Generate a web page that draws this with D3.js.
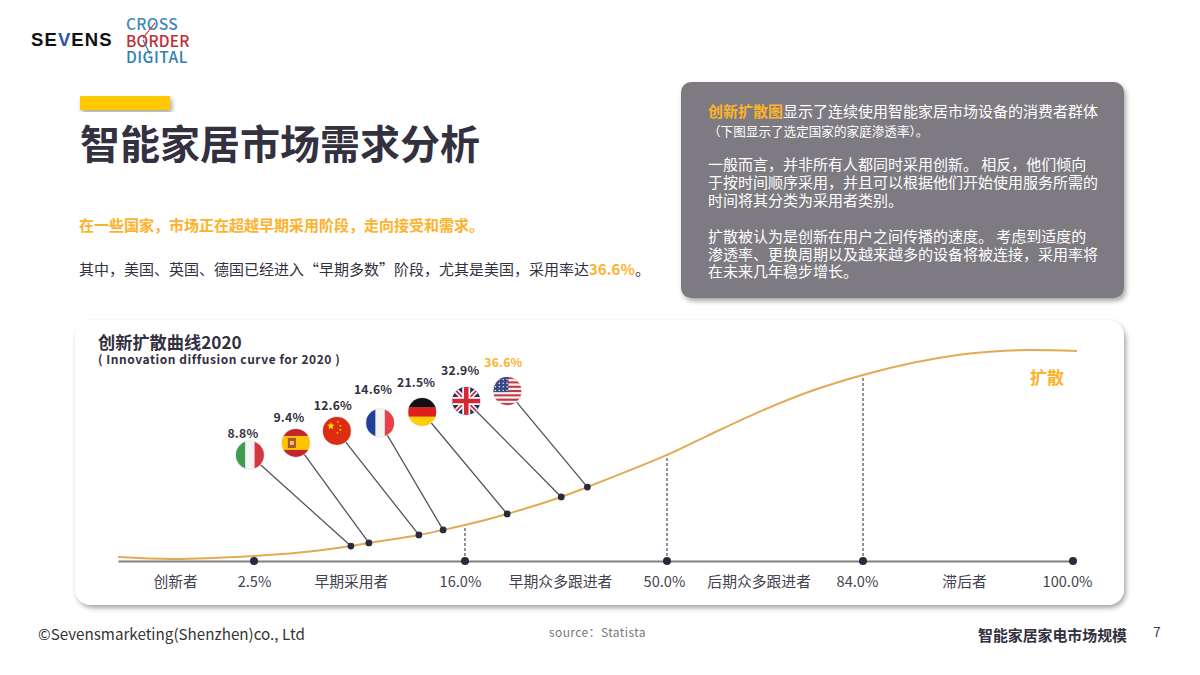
<!DOCTYPE html>
<html>
<head>
<meta charset="utf-8">
<script src="https://cdn.jsdelivr.net/npm/d3@7"></script>
<style>
  html, body { margin: 0; padding: 0; background: #fff; }
  text { font-family: "Noto Sans CJK SC", "Noto Sans", sans-serif; }
</style>
</head>
<body>
<script>
// axis: where each adopter share sits on the (non uniform) bottom axis
const axisShares = [0, 2.5, 16, 50, 84, 100];
const tickShares = [2.5, 16, 50, 84, 100];
const tickLabels = ["2.5%", "16.0%", "50.0%", "84.0%", "100.0%"];
const groupShares = [1.05, 8.7, 32, 65.9, 91.7];
const groupLabels = ["创新者", "早期采用者", "早期众多跟进者", "后期众多跟进者", "滞后者"];

// diffusion curve
const curveShare = [0, 1.01, 2.5, 5.44, 8.7, 9.85, 13.05, 14.6, 16, 23.1, 32.2, 36.6, 50, 56.9, 66.3, 75.5, 84, 87.9, 91.2, 93.9, 96.7, 100.3];
const curveLevel = [1.9, 1, 2.4, 4, 7.1, 8.6, 12.4, 14.8, 17.1, 22.4, 30.5, 35.2, 50.5, 59.5, 71.4, 81.4, 88.6, 94.5, 98.1, 99.8, 100.5, 100];
const dashedShares = [16, 50, 84];
const dashedLevels = [17.1, 50.5, 88.6];

// countries
const countries = ["it", "es", "cn", "fr", "de", "uk", "us"];
const adoption = ["8.8%", "9.4%", "12.6%", "14.6%", "21.5%", "32.9%", "36.6%"];
const pinShare = [8.7, 9.85, 13.05, 14.6, 23.1, 32.2, 36.6];
const pinLevel = [7.1, 8.6, 12.4, 14.8, 22.4, 30.5, 35.2];

const infoLines = [
  "一般而言，并非所有人都同时采用创新。 相反，他们倾向",
  "于按时间顺序采用，并且可以根据他们开始使用服务所需的",
  "时间将其分类为采用者类别。",
  "",
  "扩散被认为是创新在用户之间传播的速度。 考虑到适度的",
  "渗透率、更换周期以及越来越多的设备将被连接，采用率将",
  "在未来几年稳步增长。"
];

const dark = "#33303f";
const orange = "#fdb22b";

const svg = d3.select("body").append("svg")
  .attr("width", 1200)
  .attr("height", 675)
  .style("display", "block");

const defs = svg.append("defs");
const shadow = defs.append("filter").attr("id", "shadow")
  .attr("x", "-5%").attr("y", "-5%").attr("width", "110%").attr("height", "115%");
shadow.append("feDropShadow")
  .attr("dx", 2).attr("dy", 3).attr("stdDeviation", 2.5)
  .attr("flood-color", "#000").attr("flood-opacity", 0.35);
defs.append("clipPath").attr("id", "flagClip")
  .append("circle").attr("r", 14);

function label(parent, x, y, str, size, color, weight, anchor) {
  return parent.append("text")
    .attr("x", x).attr("y", y)
    .attr("font-size", size)
    .attr("font-weight", weight || 400)
    .attr("fill", color)
    .attr("text-anchor", anchor || "start")
    .attr("dominant-baseline", "central")
    .text(str);
}

// logo
const logo = svg.append("g");
const sevens = label(logo, 31, 39, "", 18.5, "#111", 700);
sevens.style("font-family", "'Liberation Sans'").style("letter-spacing", "1.1px");
sevens.append("tspan").text("SE");
sevens.append("tspan").attr("fill", "#2a55b0").text("V");
sevens.append("tspan").text("ENS");
label(logo, 126, 23, "CROSS", 15.5, "#3d8abc", 500).style("letter-spacing", "0.3px");
label(logo, 126, 39.5, "BORDER", 15.5, "#c22e35", 500).style("letter-spacing", "0.2px");
label(logo, 126, 56, "DIGITAL", 15.5, "#2f80b4", 500).style("letter-spacing", "0.5px");
logo.append("path").attr("d", "M155 23L143 38").attr("stroke", "#c22e35").attr("stroke-width", 1.2);
logo.append("path").attr("d", "M143 40L150 54").attr("stroke", "#2f80b4").attr("stroke-width", 1.2);

// heading block
svg.append("rect")
  .attr("x", 80).attr("y", 96).attr("width", 90).attr("height", 14)
  .attr("fill", "#ffc800").attr("filter", "url(#shadow)");
label(svg, 80, 142, "智能家居市场需求分析", 40, dark, 700);
label(svg, 79, 224, "在一些国家，市场正在超越早期采用阶段，走向接受和需求。", 15, orange, 700);
const body = label(svg, 79, 268, "", 15, dark, 400);
body.append("tspan").text("其中，美国、英国、德国已经进入“早期多数”阶段，尤其是美国，采用率达");
body.append("tspan").attr("fill", orange).attr("font-weight", 700).text("36.6%");
body.append("tspan").text("。");

// grey info box
svg.append("rect")
  .attr("x", 681).attr("y", 82).attr("width", 443).attr("height", 216).attr("rx", 10)
  .attr("fill", "#7d7a81").attr("filter", "url(#shadow)");
const first = label(svg, 708, 109.5, "", 15, "#fff", 400);
first.append("tspan").attr("fill", orange).attr("font-weight", 700).text("创新扩散图");
first.append("tspan").text("显示了连续使用智能家居市场设备的消费者群体");
label(svg, 708, 130, "（下图显示了选定国家的家庭渗透率）。", 12.6, "#fff", 400);
infoLines.forEach((line, i) => {
  if (line) label(svg, 708, 163.5 + i * 17.9, line, 15, "#fff", 400);
});

// chart card
svg.append("rect")
  .attr("x", 75).attr("y", 320).attr("width", 1049).attr("height", 285).attr("rx", 16)
  .attr("fill", "#fff").attr("filter", "url(#shadow)");
label(svg, 98, 341, "创新扩散曲线2020", 17.2, dark, 700);
label(svg, 98, 358.5, "( Innovation diffusion curve for 2020 )", 12, dark, 700).style("letter-spacing", "0.55px");

// scales
const x = d3.scaleLinear().domain(axisShares).range([118, 254, 465, 667, 863, 1073]);
const y = d3.scaleLinear().domain([0, 100]).range([561, 351]);

// dashed drop lines
svg.selectAll(".drop")
  .data(dashedShares)
  .enter().append("line")
  .attr("class", "drop")
  .attr("x1", d => x(d))
  .attr("x2", d => x(d))
  .attr("y1", y(0))
  .attr("y2", (d, i) => y(dashedLevels[i]))
  .attr("stroke", "#3a3a48")
  .attr("stroke-width", 1.1)
  .attr("stroke-dasharray", "3,2");

// bottom axis with percentage ticks
const axisG = svg.append("g")
  .attr("transform", `translate(0, ${y(0)})`)
  .call(d3.axisBottom(x)
    .tickValues(tickShares)
    .tickSize(0)
    .tickPadding(0)
    .tickFormat((d, i) => tickLabels[i]));
axisG.select(".domain").attr("stroke", "#808080").attr("stroke-width", 2.2);
axisG.selectAll("text")
  .attr("font-family", "'Noto Sans CJK SC'")
  .attr("font-size", 14.6)
  .attr("fill", "#444250")
  .attr("dy", 0)
  .attr("y", 19)
  .attr("dominant-baseline", "central")
  .attr("dx", (d, i) => [0, -5, -3, -6, -6][i]);

// second axis for the adopter group names
const groupAxis = svg.append("g")
  .attr("transform", `translate(0, ${y(0)})`)
  .call(d3.axisBottom(x)
    .tickValues(groupShares)
    .tickSize(0)
    .tickFormat((d, i) => groupLabels[i]));
groupAxis.select(".domain").remove();
groupAxis.selectAll("text")
  .attr("font-family", "'Noto Sans CJK SC'")
  .attr("font-size", 14.8)
  .attr("fill", "#444250")
  .attr("dy", 0)
  .attr("y", 19)
  .attr("dominant-baseline", "central");

// axis dots
svg.selectAll(".axisDot")
  .data(tickShares)
  .enter().append("circle")
  .attr("class", "axisDot")
  .attr("cx", d => x(d))
  .attr("cy", y(0))
  .attr("r", 4)
  .attr("fill", "#2b2a3d");

// curve
const curveLine = d3.line()
  .x(d => x(d))
  .y((d, i) => y(curveLevel[i]))
  .curve(d3.curveCatmullRom);
svg.append("path")
  .attr("d", curveLine(curveShare))
  .attr("fill", "none")
  .attr("stroke", "#e2aa55")
  .attr("stroke-width", 2);
label(svg, 1030, 376, "扩散", 17, orange, 700);

// flag position relative to its point on the curve
const flagDx = [-101, -73, -82, -63, -85, -95, -80];
const flagDy = [-91, -100, -104, -107, -102, -96, -96];
// percentage label relative to its flag
const labelDx = [-7, -7, -4, -7, -6, -6, -4];
const labelDy = [-22, -25, -25, -33, -29, -30, -29];

function stripes(g, colors, vertical) {
  const band = 28 / colors.length;
  colors.forEach((c, i) => {
    g.append("rect")
      .attr("x", vertical ? -14 + i * band : -14)
      .attr("y", vertical ? -14 : -14 + i * band)
      .attr("width", vertical ? band + 0.3 : 28)
      .attr("height", vertical ? 28 : band + 0.3)
      .attr("fill", c);
  });
}

function drawStar(g, cx, cy, r) {
  const pts = d3.range(10).map(i => {
    const a = -Math.PI / 2 + i * Math.PI / 5;
    const rr = i % 2 ? r * 0.42 : r;
    return [cx + rr * Math.cos(a), cy + rr * Math.sin(a)];
  });
  g.append("polygon").attr("points", pts.join(" ")).attr("fill", "#ffde00");
}

const flagPainters = {
  it: g => stripes(g, ["#3f9c55", "#f4f4f4", "#d6343f"], true),
  fr: g => stripes(g, ["#22409a", "#f4f4f4", "#e8404a"], true),
  de: g => stripes(g, ["#111111", "#dd1f1f", "#ffce00"], false),
  es: g => {
    stripes(g, ["#c6242c", "#ffc400", "#ffc400", "#c6242c"], false);
    g.append("rect").attr("x", -8).attr("y", -5).attr("width", 8).attr("height", 10).attr("fill", "#a8562c");
    g.append("rect").attr("x", -6).attr("y", -2).attr("width", 4).attr("height", 4).attr("fill", "#e9c27a");
  },
  cn: g => {
    g.append("rect").attr("x", -14).attr("y", -14).attr("width", 28).attr("height", 28).attr("fill", "#dd2c12");
    drawStar(g, -6, -5, 4);
    [[1, -9], [3.5, -5], [3.5, -1], [0.5, 2]].forEach(p => drawStar(g, p[0], p[1], 1.4));
  },
  uk: g => {
    g.append("rect").attr("x", -14).attr("y", -14).attr("width", 28).attr("height", 28).attr("fill", "#1f2f6b");
    [["M-14 -14L14 14", 5, "#fff"], ["M14 -14L-14 14", 5, "#fff"],
     ["M-14 -14L14 14", 1.8, "#d32836"], ["M14 -14L-14 14", 1.8, "#d32836"],
     ["M0 -14V14M-14 0H14", 8, "#fff"], ["M0 -14V14M-14 0H14", 4.6, "#d32836"]].forEach(s => {
      g.append("path").attr("d", s[0]).attr("stroke-width", s[1]).attr("stroke", s[2]).attr("fill", "none");
    });
  },
  us: g => {
    stripes(g, d3.range(13).map(i => i % 2 ? "#f6f6f6" : "#c43a45"), false);
    g.append("rect").attr("x", -14).attr("y", -14).attr("width", 15).attr("height", 15).attr("fill", "#3c4a86");
    d3.range(16).forEach(i => {
      g.append("circle")
        .attr("cx", -12 + (i % 4) * 3.9)
        .attr("cy", -11.5 + Math.floor(i / 4) * 3.6)
        .attr("r", 0.7)
        .attr("fill", "#fff");
    });
  }
};

// pins, flags, values
const pins = svg.selectAll(".pin")
  .data(countries)
  .enter().append("g")
  .attr("class", "pin")
  .attr("transform", (d, i) => `translate(${x(pinShare[i])}, ${y(pinLevel[i])})`);

pins.append("line")
  .attr("x2", (d, i) => flagDx[i])
  .attr("y2", (d, i) => flagDy[i])
  .attr("stroke", "#55545c")
  .attr("stroke-width", 1.3);

pins.append("circle")
  .attr("r", 3.4)
  .attr("fill", "#2b2a3d");

pins.each(function (d, i) {
  const holder = d3.select(this).append("g")
    .attr("transform", `translate(${flagDx[i]}, ${flagDy[i]})`);
  holder.append("circle").attr("r", 14.6).attr("fill", "#e4e4e4");
  const flag = holder.append("g").attr("clip-path", "url(#flagClip)");
  flagPainters[d](flag);
  label(holder, labelDx[i], labelDy[i] - 0.5, adoption[i], 12.2, d === "us" ? orange : dark, 700, "middle")
    .style("letter-spacing", "0.2px");
});

// footer
label(svg, 38, 633, "©Sevensmarketing(Shenzhen)co., Ltd", 15.2, "#333", 400);
label(svg, 549, 631, "source：Statista", 12, "#777", 400).style("letter-spacing", "0.4px");
label(svg, 978, 634, "智能家居家电市场规模", 14.9, dark, 700);
label(svg, 1153, 631, "7", 14, "#444", 400);
</script>
</body>
</html>
